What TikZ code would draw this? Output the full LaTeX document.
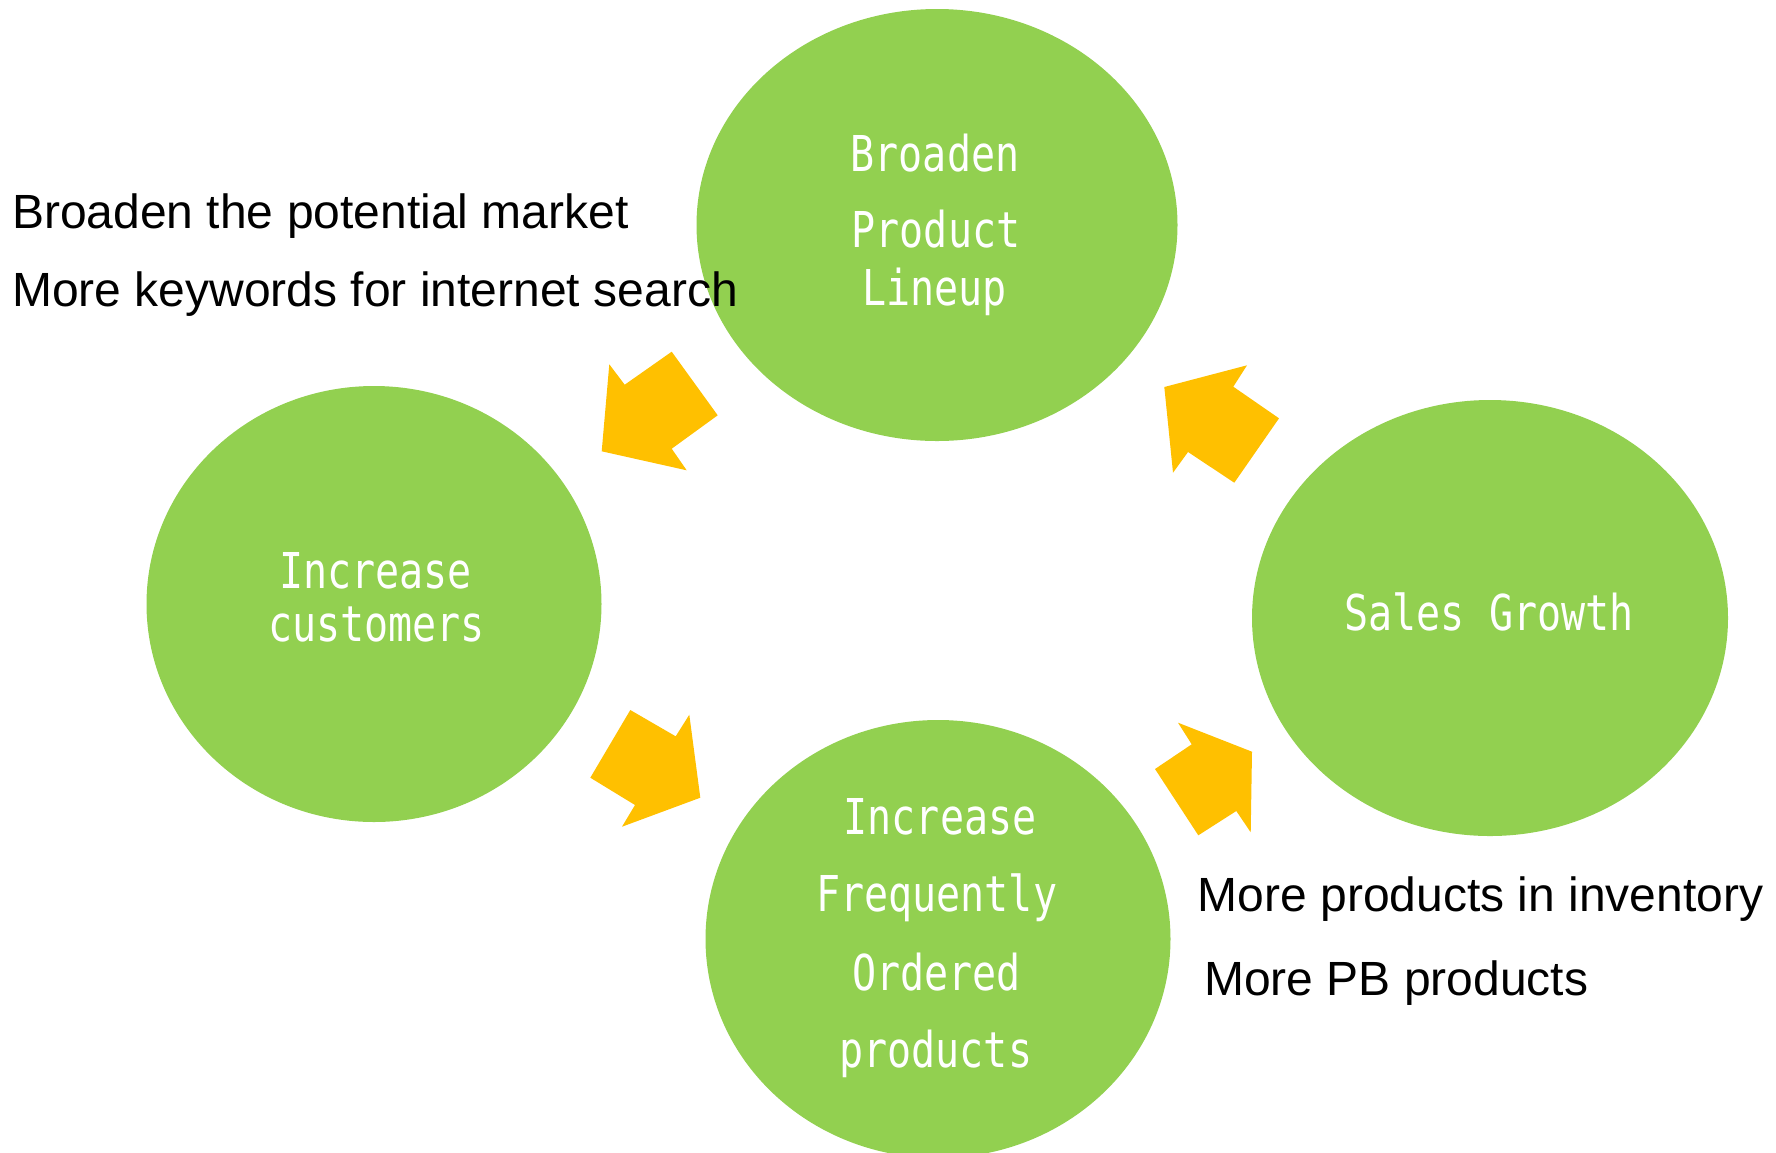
\documentclass[tikz,border=0pt]{standalone}
\usepackage{fontspec}
\setmainfont{Liberation Sans}
\newfontfamily\monof[FakeStretch=0.81]{DejaVu Sans Mono}
\usetikzlibrary{shapes.geometric}
\definecolor{leaf}{HTML}{92D050}
\definecolor{amber}{HTML}{FFC000}
\tikzset{
  bubble/.style={ellipse, fill=leaf, draw=none, inner sep=0pt},
  intext/.style={anchor=base, inner sep=0pt, text=white, font=\monof\fontsize{49.4}{50}\selectfont},
  outtext/.style={anchor=base west, inner sep=0pt, text=black, font=\fontsize{48}{50}\selectfont},
  blockarrow/.style={fill=amber, draw=none}
}
\begin{document}
\begin{tikzpicture}[x=1pt,y=-1pt]
\useasboundingbox (0,0) rectangle (1776,1152);
\clip (0,0) rectangle (1776,1152);
% ellipses
\node[bubble, minimum width=481pt, minimum height=432pt] (top) at (937,225) {};
\node[bubble, minimum width=455pt, minimum height=436pt] (left) at (374,604) {};
\node[bubble, minimum width=476pt, minimum height=436pt] (right) at (1490,618) {};
\node[bubble, minimum width=465pt, minimum height=438pt] (bottom) at (938,939) {};
% texts in ellipses
\node[intext] (t1) at (935,171.7) {Broaden};
\node[intext] (t2) at (936,247.7) {Product};
\node[intext] (t3) at (934.5,305) {Lineup};
\node[intext] (l1) at (375.5,588.3) {Increase};
\node[intext] (l2) at (376.5,641.7) {customers};
\node[intext] (r1) at (1489,630.7) {Sales Growth};
\node[intext] (b1) at (940,834.3) {Increase};
\node[intext] (b2) at (936.7,911) {Frequently};
\node[intext] (b3) at (936.7,990) {Ordered};
\node[intext] (b4) at (935.8,1067.3) {products};
% outer texts
\node[outtext] (n1) at (12,228) {Broaden the potential market};
\node[outtext] (n2) at (12,306) {More keywords for internet search};
\node[outtext] (n3) at (1197.5,911.7) {More products in inventory};
\node[outtext] (n4) at (1204,995) {More PB products};
% block arrows
\fill[blockarrow] (609.3,364.3) -- (624.7,384.7) -- (671.7,351.7) -- (717.7,415.3) -- (671.7,448.7) -- (686.7,470.3) -- (601.7,451.3) -- cycle;
\fill[blockarrow] (1164.3,387) -- (1247,365.3) -- (1233.3,386.7) -- (1279,418.3) -- (1234.3,482.7) -- (1188,452) -- (1173,472.7) -- cycle;
\fill[blockarrow] (630.3,710) -- (675.7,736.3) -- (689.3,714.7) -- (700.3,797.7) -- (622,826.7) -- (635,805) -- (590.3,777.7) -- cycle;
\fill[blockarrow] (1178,722.7) -- (1252,751.7) -- (1250.7,832.3) -- (1236.3,811) -- (1198.3,835.3) -- (1155,769) -- (1191.7,744.3) -- cycle;
\end{tikzpicture}
\end{document}
